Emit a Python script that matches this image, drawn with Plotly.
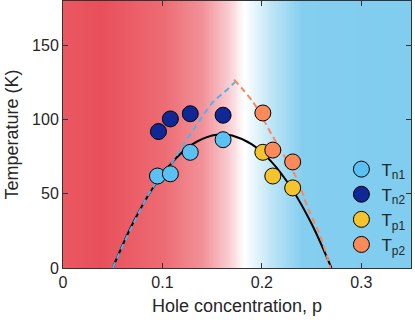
import numpy as np
import plotly.graph_objects as go

# Data
n1_p = [0.095, 0.108, 0.128, 0.161]
n1_T = [62, 63.5, 78, 86.5]
n2_p = [0.096, 0.108, 0.128, 0.161]
n2_T = [92, 100.5, 104, 103]
p1_p = [0.201, 0.211, 0.231]
p1_T = [78, 62, 54]
p2_p = [0.201, 0.211, 0.231]
p2_T = [104.5, 79.5, 71.5]

# Superconducting dome (black solid)
dome_p = [0.050, 0.070, 0.090, 0.110, 0.130, 0.150, 0.160, 0.170, 0.190, 0.210, 0.230, 0.250, 0.270]
dome_T = [0, 29.8, 53.6, 71.4, 83.3, 89.3, 90, 89.3, 83.3, 71.4, 53.6, 29.8, 0]

# Dashed guides
blue_p = [0.050, 0.070, 0.091, 0.108, 0.123, 0.138, 0.151, 0.163, 0.174]
blue_T = [0, 29, 55, 69.5, 85, 100, 112, 119, 126]
orange_p = [0.172, 0.192, 0.209, 0.236, 0.246, 0.259, 0.269]
orange_T = [127, 111, 91, 59, 41, 21, 0]

x_ticks = [0, 0.1, 0.2, 0.3]
y_ticks = [0, 50, 100, 150]

# Background gradient (red -> white -> blue)
bg_x = np.linspace(0, 0.35, 351)
bg_scale = [
    [0.0, "rgb(235,88,98)"],
    [0.11, "rgb(232,79,90)"],
    [0.29, "rgb(237,108,116)"],
    [0.40, "rgb(242,145,152)"],
    [0.47, "rgb(248,200,205)"],
    [0.523, "rgb(255,255,255)"],
    [0.60, "rgb(190,229,246)"],
    [0.69, "rgb(132,206,240)"],
    [1.0, "rgb(128,205,239)"],
]

fig = go.Figure()

fig.add_trace(go.Heatmap(
    x=bg_x, y=[0, 180], z=[bg_x, bg_x],
    colorscale=bg_scale, showscale=False, hoverinfo="skip",
))

fig.add_trace(go.Scatter(
    x=dome_p, y=dome_T, mode="lines", line=dict(color="black", width=2, shape="spline"),
    showlegend=False, hoverinfo="skip",
))
fig.add_trace(go.Scatter(
    x=blue_p, y=blue_T, mode="lines",
    line=dict(color="rgb(80,180,236)", width=2, dash="6px,4px", shape="spline"),
    showlegend=False, hoverinfo="skip",
))
fig.add_trace(go.Scatter(
    x=orange_p, y=orange_T, mode="lines",
    line=dict(color="rgb(248,138,92)", width=2, dash="6px,4px", shape="spline"),
    showlegend=False, hoverinfo="skip",
))

series = [
    (n1_p, n1_T, "rgb(91,192,242)", "T<sub>n1</sub>"),
    (n2_p, n2_T, "rgb(16,40,150)", "T<sub>n2</sub>"),
    (p1_p, p1_T, "rgb(245,196,44)", "T<sub>p1</sub>"),
    (p2_p, p2_T, "rgb(250,138,90)", "T<sub>p2</sub>"),
]
for px, py, col, name in series:
    fig.add_trace(go.Scatter(
        x=px, y=py, mode="markers", name=name,
        marker=dict(size=16, color=col, line=dict(color="black", width=1)),
    ))

axis_common = dict(
    showline=True, linecolor="#333333", linewidth=1, mirror="ticks",
    ticks="inside", ticklen=5, tickcolor="#333333",
    showgrid=False, zeroline=False,
    tickfont=dict(size=16, color="#262626"),
)

fig.update_xaxes(
    range=[0, 0.35], tickvals=x_ticks, ticktext=["0", "0.1", "0.2", "0.3"],
    title=dict(text="Hole concentration, p", font=dict(size=18, color="#262626"), standoff=9),
    **axis_common,
)
fig.update_yaxes(
    range=[0, 180], tickvals=y_ticks,
    title=dict(text="Temperature (K)", font=dict(size=18, color="#262626"), standoff=8),
    **axis_common,
)

fig.update_layout(
    width=415, height=320,
    margin=dict(l=63, r=4, t=1, b=52, autoexpand=False),
    paper_bgcolor="white", plot_bgcolor="white",
    font=dict(family="Liberation Sans, Arial, sans-serif", color="#262626"),
    legend=dict(
        x=0.80, y=0.436, xanchor="left", yanchor="top",
        bgcolor="rgba(0,0,0,0)", borderwidth=0,
        font=dict(size=17), itemsizing="trace", tracegroupgap=0,
    ),
)

# drop the browser's default page margin so the figure sits at the top-left corner
fig.write_html(
    "out.html",
    config={"displayModeBar": False},
    post_script="document.body.style.margin='0';",
)
